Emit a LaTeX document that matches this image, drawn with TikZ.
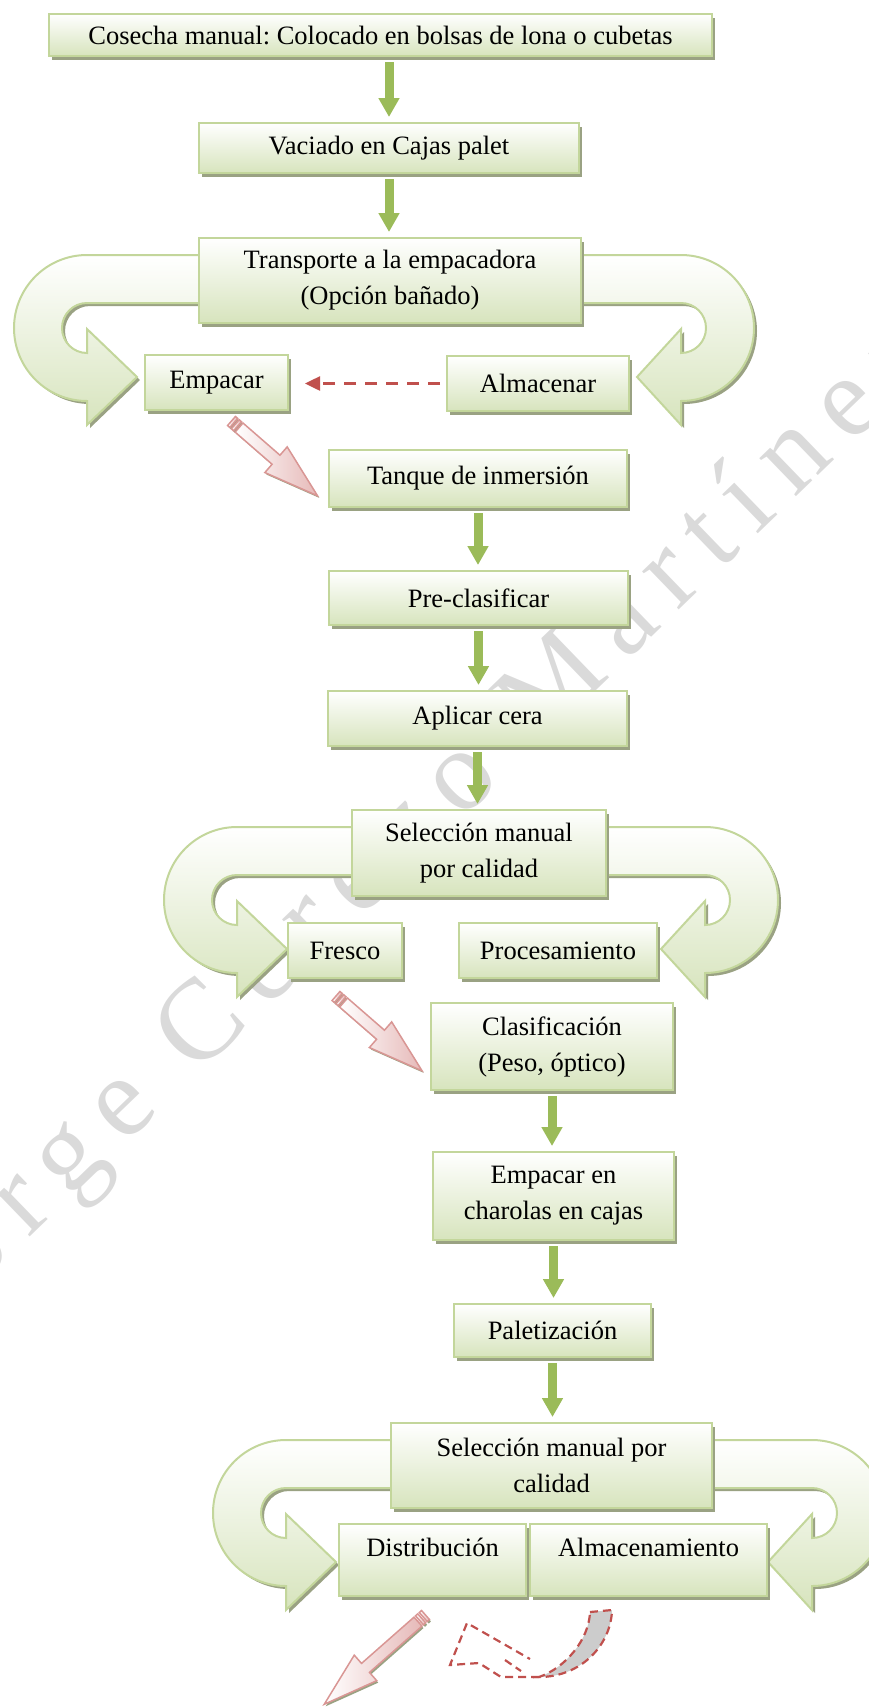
\documentclass[tikz,border=0pt]{standalone}
\usepackage{fontspec}
\setmainfont{Liberation Serif}
\newfontfamily\markfont[LetterSpace=17.5]{Liberation Serif}
\usetikzlibrary{shadows,arrows.meta,calc}
\frenchspacing

\definecolor{boxline}{HTML}{C3D69B}
\definecolor{boxfill}{HTML}{D7E4BD}
\definecolor{shadowc}{HTML}{9AA283}
\definecolor{flowgreen}{HTML}{9BBB59}
\definecolor{dashred}{HTML}{C0504D}
\definecolor{pinkline}{HTML}{D99694}
\definecolor{pinkfill}{HTML}{E6B9B8}
\definecolor{markgray}{HTML}{DADADA}

\pgfdeclarelayer{watermark}
\pgfdeclarelayer{back}
\pgfsetlayers{watermark,back,main}

\tikzset{
  stepbox/.style={draw=boxline, line width=2pt, top color=white, bottom color=boxfill,
    inner sep=0pt, align=center, font=\fontsize{26.5}{36}\selectfont,
    drop shadow={shadow xshift=3pt, shadow yshift=-4pt, fill=shadowc, opacity=1}},
  looparrow/.style={draw=boxline, line width=2pt, top color=white, bottom color=boxfill,
    drop shadow={shadow xshift=3pt, shadow yshift=-3pt, fill=shadowc, opacity=1}},
  flow/.style={draw=flowgreen, line width=9pt, -{Triangle[width=20pt,length=19pt]},
    shorten <=5pt, shorten >=5pt},
  dashflow/.style={draw=dashred, line width=2.5pt, dash pattern=on 12pt off 9pt,
    -{Triangle[width=14pt,length=15pt]}},
  pinkpart/.style={draw=pinkline, line width=1.5pt, left color=white, right color=pinkfill,
    drop shadow={shadow xshift=1.5pt, shadow yshift=-2pt, fill=shadowc, opacity=1}},
  reddash/.style={draw=dashred, line width=2.2pt, dash pattern=on 8pt off 5pt},
  barrow/.pic={
    \path[pinkpart] (0,-6) rectangle (3,6);
    \path[pinkpart] (5,-6) rectangle (8,6);
    \path[pinkpart] (10,-6) -- (#1-55,-6) -- (#1-55,-17) -- (#1,0)
      -- (#1-55,17) -- (#1-55,6) -- (10,6) -- cycle;
  }
}

% U-shaped arrow leaving a box to the left and pointing right into a target box
\newcommand\loopleft[3]{%
  \path[looparrow] let \p1=(#1.north), \p2=(#2.west), \p3=(#1.center) in
    (\x3,\y1-18pt) -- (\x2-#3pt-50pt,\y1-18pt)
    arc[start angle=90,end angle=270,radius=73pt]
    -- ++(0,-24pt) -- (\x2-#3pt,\y1-140pt) -- (\x2-#3pt-50pt,\y1-92pt)
    -- ++(0,-24pt) arc[start angle=270,end angle=90,radius=25pt]
    -- (\x3,\y1-66pt) -- cycle;}
% the mirrored version, leaving to the right
\newcommand\loopright[3]{%
  \path[looparrow] let \p1=(#1.north), \p2=(#2.east), \p3=(#1.center) in
    (\x3,\y1-18pt) -- (\x2+#3pt+44pt,\y1-18pt)
    arc[start angle=90,end angle=-90,radius=73pt]
    -- ++(0,-24pt) -- (\x2+#3pt,\y1-140pt) -- (\x2+#3pt+44pt,\y1-92pt)
    -- ++(0,-24pt) arc[start angle=-90,end angle=90,radius=25pt]
    -- (\x3,\y1-66pt) -- cycle;}

\begin{document}
\begin{tikzpicture}[x=1pt,y=1pt]
\useasboundingbox (0,0) rectangle (869,-1708);

\begin{pgfonlayer}{watermark}
  \node[anchor=base, rotate=44, text=markgray,
        font=\markfont\fontsize{115}{115}\selectfont] (wm) at (432,-849) {Jorge Cerezo Martínez};
\end{pgfonlayer}

% process steps
\node[stepbox, minimum width=663, minimum height=42] (b1) at (380.5,-35) {Cosecha manual: Colocado en bolsas de lona o cubetas};
\node[stepbox, minimum width=380, minimum height=50] (b2) at (389,-148) {Vaciado en Cajas palet};
\node[stepbox, minimum width=382, minimum height=85] (b3) at (390,-280.5) {Transporte a la empacadora\\(Opción bañado)};
\node[stepbox, minimum width=143, minimum height=55] (emp) at (216.5,-382.5) {Empacar};
\node[stepbox, minimum width=182, minimum height=55] (alm) at (538,-383.5) {Almacenar};
\node[stepbox, minimum width=298, minimum height=57] (tan) at (478,-478.5) {Tanque de inmersión};
\node[stepbox, minimum width=299, minimum height=54] (pre) at (478.5,-598) {Pre-clasificar};
\node[stepbox, minimum width=299, minimum height=55] (apl) at (477.5,-718.5) {Aplicar cera};
\node[stepbox, minimum width=254, minimum height=86] (sel1) at (479,-853) {Selección manual\\por calidad};
\node[stepbox, minimum width=114, minimum height=55] (fre) at (345,-950.5) {Fresco};
\node[stepbox, minimum width=198, minimum height=55] (pro) at (558,-950.5) {Procesamiento};
\node[stepbox, minimum width=242, minimum height=87] (cla) at (552,-1046.5) {Clasificación\\(Peso, óptico)};
\node[stepbox, minimum width=241, minimum height=88] (cha) at (553.5,-1196) {Empacar en\\charolas en cajas};
\node[stepbox, minimum width=197, minimum height=53] (pal) at (552.5,-1330.5) {Paletización};
\node[stepbox, minimum width=321, minimum height=85] (sel2) at (551.5,-1465.5) {Selección manual por\\calidad};
\node[stepbox, minimum width=187, minimum height=72, text depth=26pt] (dis) at (432.5,-1560) {Distribución};
\node[stepbox, minimum width=237, minimum height=72, text depth=26pt] (als) at (648.5,-1560) {Almacenamiento};

% branching U arrows behind the boxes
\begin{pgfonlayer}{back}
  \loopleft{b3}{emp}{7}
  \loopright{b3}{alm}{7}
  \loopleft{sel1}{fre}{0}
  \loopright{sel1}{pro}{3}
  \loopleft{sel2}{dis}{2}
  \loopright{sel2}{als}{0}
\end{pgfonlayer}

% straight flow arrows
\draw[flow] (b1.south -| b2.north) -- (b2.north);
\draw[flow] (b2.south) -- (b2.south |- b3.north);
\draw[flow] (tan.south) -- (tan.south |- pre.north);
\draw[flow] (pre.south) -- (pre.south |- apl.north);
\draw[flow] (apl.south) -- (apl.south |- sel1.north);
\draw[flow] (cla.south) -- (cla.south |- cha.north);
\draw[flow] (cha.south) -- (cha.south |- pal.north);
\draw[flow] (pal.south) -- (pal.south |- sel2.north);

% dashed return
\draw[dashflow, shorten <=6pt, shorten >=16pt] (alm.west) -- (alm.west -| emp.east);

% striped block arrows
\path (emp.south) ++(15,-10) pic[rotate=-41] {barrow=114};
\path (fre.south) ++(-9,-17) pic[rotate=-41] {barrow=114};
\path (dis.south) ++(-7,-18) pic[rotate=-138.6] {barrow=135};

% dashed curved arrow outline
\path[reddash, fill=gray!40] (590,-1612) -- (612,-1610)
  .. controls (611,-1645) and (581,-1677) .. (539,-1677)
  .. controls (565,-1668) and (589,-1640) .. (590,-1612) -- cycle;
\draw[reddash] (539,-1677) -- (501,-1677) -- (479,-1663) -- (450,-1665) -- (467,-1623) -- (530,-1659);
\draw[reddash] (505,-1660) -- (521,-1671);
\end{tikzpicture}
\end{document}
